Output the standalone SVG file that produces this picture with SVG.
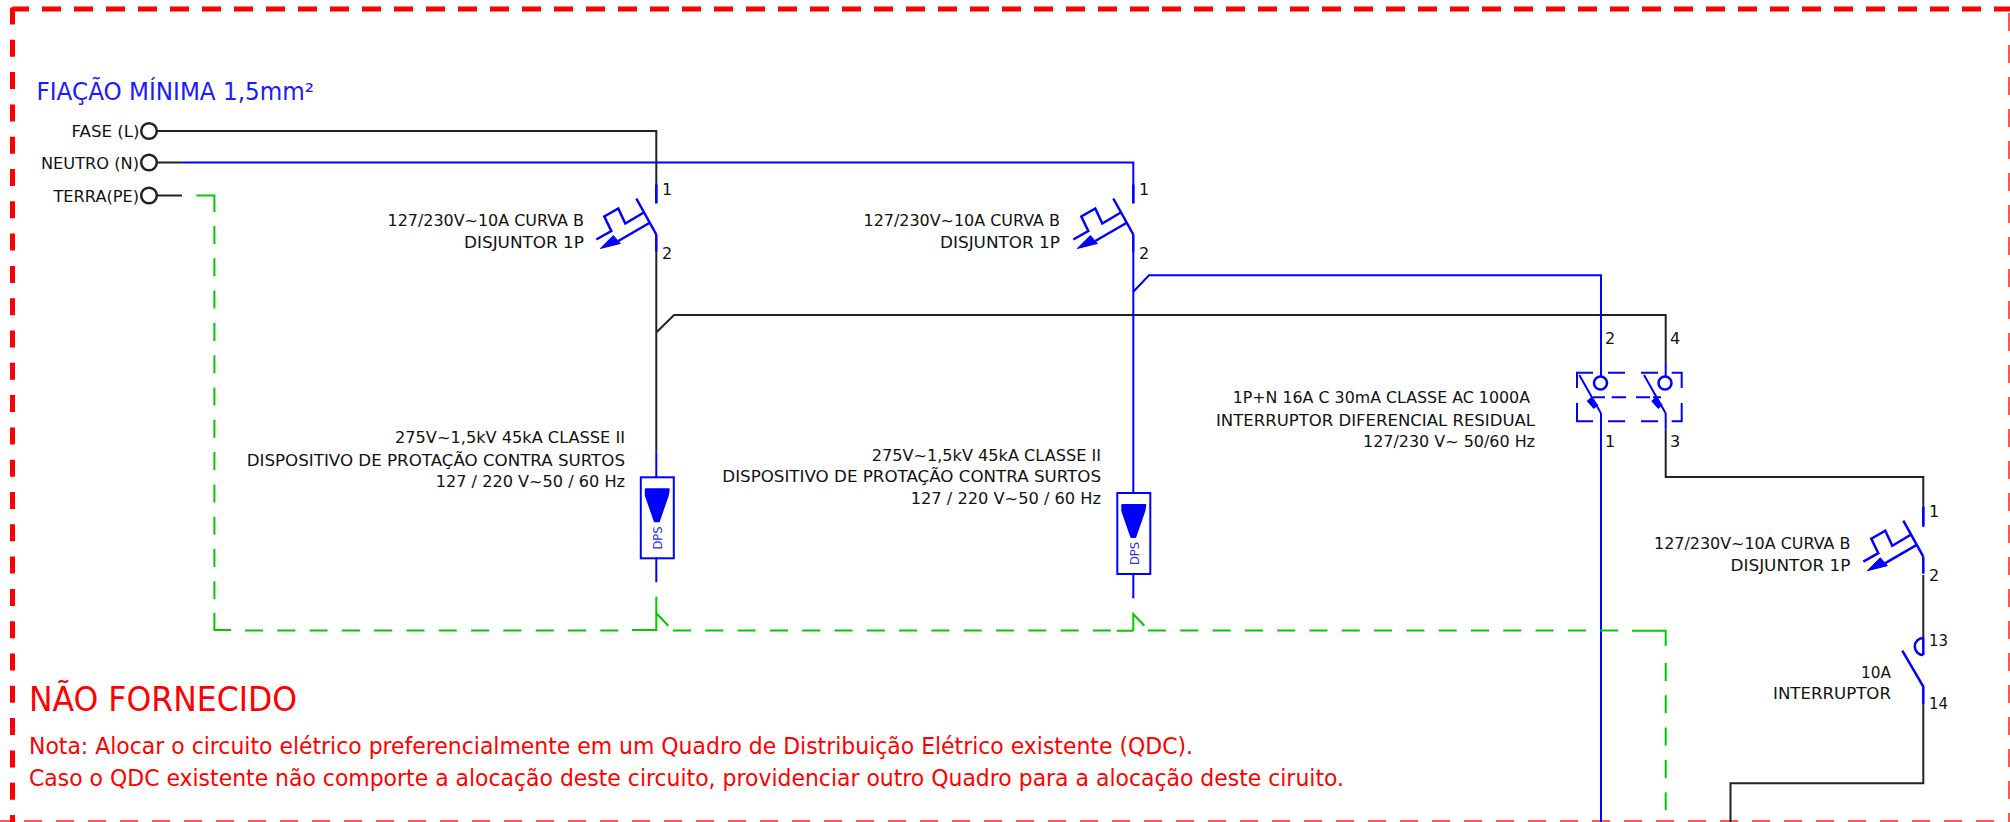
<svg xmlns="http://www.w3.org/2000/svg" width="2010" height="822" viewBox="0 0 2010 822">
<style>
text{font-family:"DejaVu Sans","Liberation Sans",sans-serif}
.t{font-size:16px;fill:#111}
.r{font-size:23px;fill:#f00}
line,path,rect,ellipse{fill:none}
.k{stroke:#222;stroke-width:2}
.b{stroke:#0000ff;stroke-width:2}
.g{stroke:#00cc00;stroke-width:2}
.gd{stroke:#00cc00;stroke-width:2;stroke-dasharray:18 14.3}
.f{fill:#0000ff;stroke:#0000ff;stroke-width:1;stroke-linejoin:round}
.m{stroke:#0000ff;stroke-width:2.500}
</style>
<defs>
<g id="brk">
<path class="m" d="M0,-31V-50M0,0V17M-20,-36L0,0M-12.500,-22L-31,-11L-38,-26L-52,-18L-45,-3.500L-60,5M-7,-11.500L-38,6.500"/>
<path class="f" d="M-56,14L-43,1L-36,9Z"/>
</g>
<g id="spd">
<rect class="b" x="-16" y="0" width="33" height="81"/>
<path class="f" d="M-11,12H12L11,18L2,44H-2L-11,18Z" style="stroke-width:2"/>
</g>
</defs>
<g id="border" fill="none">
<path d="M12.500,9H2010" fill="none" stroke="#ff0000" stroke-width="5" stroke-dasharray="19 13" stroke-dashoffset="2.500"/>
<path d="M12.500,6.500V822" fill="none" stroke="#ff0000" stroke-width="5" stroke-dasharray="17 15.300" stroke-dashoffset="-1"/>
<path d="M0,821H2010" fill="none" stroke="#ff5555" stroke-width="2" stroke-dasharray="18 14" stroke-dashoffset="8"/>
<path d="M2009,0V822" fill="none" stroke="#ff5555" stroke-width="2" stroke-dasharray="18 14" stroke-dashoffset="19"/>
</g>
<g id="connectors">
<path class="k" d="M157,131H656.300V182M157,162.500H182M157,195.500H182M656.300,251V451.700M657,331.700L674,315H1665.700V363M1665.700,429.300V477H1923.300V508M1923.300,575V638M1923.300,704.300V783.300H1730.500V822"/>
<path class="b" d="M182,162.500H1133.300V203M656.300,182V203M1133.300,251V492.700M1133.300,291.700L1149,275.300H1601V376.500M656.300,451.700V477.300M1601,413V822M1665.700,363V376.500M1665.700,413V429.300M1923.300,508V527M656.300,557.300V582.300M1133.300,575V598.300"/>
<path class="g" d="M196.400,195.500H214.400V212M214.400,613V630H231M656.300,596.700V630H632M656.300,613.300L668.300,625.700M1133.300,630.700V614L1144.300,625.700M1133.300,630.700H1116.700M1632,630.700H1665.700V646"/>
<path class="gd" d="M214.400,226V613"/>
<path class="gd" d="M245,630.500H632"/>
<path class="gd" d="M673,630.500H1111"/>
<path class="gd" d="M1148,630.500H1632"/>
<path class="gd" d="M1665.700,663V810"/>
</g>
<g id="title"><text x="36.500" y="100" textLength="277.500" lengthAdjust="spacingAndGlyphs" style="font-size:24px;fill:#1a1aff">FIAÇÃO MÍNIMA 1,5mm²</text></g>
<g id="terminal-fase"><ellipse class="m" style="stroke:#222" cx="149" cy="131" rx="7.800" ry="7.800"/><text class="t" x="71.500" y="136.500" textLength="68" lengthAdjust="spacingAndGlyphs">FASE (L)</text></g>
<g id="terminal-neutro"><ellipse class="m" style="stroke:#222" cx="149" cy="162.500" rx="7.800" ry="7.800"/><text class="t" x="41" y="168.500" textLength="98" lengthAdjust="spacingAndGlyphs">NEUTRO (N)</text></g>
<g id="terminal-terra"><ellipse class="m" style="stroke:#222" cx="149" cy="195.500" rx="7.800" ry="7.800"/><text class="t" x="53.500" y="201.500" textLength="85.500" lengthAdjust="spacingAndGlyphs">TERRA(PE)</text></g>
<g id="disjuntor-1"><use href="#brk" x="656.300" y="234.500"/>
<text class="t" x="387.500" y="226" textLength="196.500" lengthAdjust="spacingAndGlyphs">127/230V~10A CURVA B</text><text class="t" x="464" y="248" textLength="120" lengthAdjust="spacingAndGlyphs">DISJUNTOR 1P</text>
<text class="t" x="662" y="195">1</text><text class="t" x="662" y="259">2</text></g>
<g id="disjuntor-2"><use href="#brk" x="1133.300" y="234.500"/>
<text class="t" x="863.500" y="226" textLength="196.500" lengthAdjust="spacingAndGlyphs">127/230V~10A CURVA B</text><text class="t" x="940" y="248" textLength="120" lengthAdjust="spacingAndGlyphs">DISJUNTOR 1P</text>
<text class="t" x="1139" y="195">1</text><text class="t" x="1139" y="259">2</text></g>
<g id="disjuntor-3"><use href="#brk" x="1923.300" y="556.700"/>
<text class="t" x="1654" y="549" textLength="196.500" lengthAdjust="spacingAndGlyphs">127/230V~10A CURVA B</text><text class="t" x="1730.500" y="571" textLength="120" lengthAdjust="spacingAndGlyphs">DISJUNTOR 1P</text>
<text class="t" x="1929" y="517">1</text><text class="t" x="1929" y="581">2</text></g>
<g id="dps-1"><use href="#spd" x="656.800" y="477.300"/>
<text class="t" x="395" y="443" textLength="230" lengthAdjust="spacingAndGlyphs">275V~1,5kV 45kA CLASSE II</text><text class="t" x="246.700" y="466" textLength="378.300" lengthAdjust="spacingAndGlyphs">DISPOSITIVO DE PROTAÇÃO CONTRA SURTOS</text><text class="t" x="435.700" y="487" textLength="189.300" lengthAdjust="spacingAndGlyphs">127 / 220 V~50 / 60 Hz</text>
<text transform="translate(662,549.500) rotate(-90)" textLength="23" lengthAdjust="spacingAndGlyphs" style="font-size:12px;fill:#3030e0">DPS</text></g>
<g id="dps-2"><use href="#spd" x="1133.300" y="493"/>
<text class="t" x="871.700" y="461" textLength="229.300" lengthAdjust="spacingAndGlyphs">275V~1,5kV 45kA CLASSE II</text><text class="t" x="722.300" y="482" textLength="378.700" lengthAdjust="spacingAndGlyphs">DISPOSITIVO DE PROTAÇÃO CONTRA SURTOS</text><text class="t" x="910.700" y="504" textLength="190.300" lengthAdjust="spacingAndGlyphs">127 / 220 V~50 / 60 Hz</text>
<text transform="translate(1139,565) rotate(-90)" textLength="23" lengthAdjust="spacingAndGlyphs" style="font-size:12px;fill:#3030e0">DPS</text></g>
<g id="idr">
<path class="b" d="M1579.300,375L1600.800,413M1644,375L1665.500,413"/>
<path class="b" d="M1589,399L1596,407M1653.500,399L1660.500,407" style="stroke-width:6"/>
<ellipse class="m" cx="1600.500" cy="383" rx="6.500" ry="6.500"/><ellipse class="m" cx="1665" cy="383" rx="6.500" ry="6.500"/>
<path class="b" d="M1593,372.700H1577V388M1608,372.700H1625M1641,372.700H1658M1671.700,372.700H1681.700V388M1577,403V421.300H1593M1608,421.300H1625M1641,421.300H1658M1671.700,421.300H1681.700V403M1593,397.300H1605M1611.700,397.300H1626M1636,397.300H1650M1653,397.300H1661"/>
<text class="t" x="1232.700" y="403" textLength="297.300" lengthAdjust="spacingAndGlyphs">1P+N 16A C 30mA CLASSE AC 1000A</text><text class="t" x="1216" y="426" textLength="319" lengthAdjust="spacingAndGlyphs">INTERRUPTOR DIFERENCIAL RESIDUAL</text><text class="t" x="1363" y="447" textLength="172" lengthAdjust="spacingAndGlyphs">127/230 V~ 50/60 Hz</text>
<text class="t" x="1605" y="344">2</text><text class="t" x="1670" y="344">4</text><text class="t" x="1605" y="447">1</text><text class="t" x="1670" y="447">3</text></g>
<g id="interruptor">
<path class="m" d="M1923.300,638V655M1923.300,638A8.500,8.500 0 0 0 1923.300,655M1902.300,650.700L1923.300,686.700V704.300"/>
<text class="t" x="1861" y="678" textLength="30" lengthAdjust="spacingAndGlyphs">10A</text><text class="t" x="1773" y="699" textLength="118" lengthAdjust="spacingAndGlyphs">INTERRUPTOR</text>
<text class="t" x="1929" y="646" textLength="19" lengthAdjust="spacingAndGlyphs">13</text><text class="t" x="1929" y="709" textLength="19" lengthAdjust="spacingAndGlyphs">14</text></g>
<g id="notes"><text x="29" y="711" textLength="268" lengthAdjust="spacingAndGlyphs" style="font-size:34px;fill:#f00">NÃO FORNECIDO</text>
<text class="r" x="29" y="754" textLength="1164" lengthAdjust="spacingAndGlyphs">Nota: Alocar o circuito elétrico preferencialmente em um Quadro de Distribuição Elétrico existente (QDC).</text>
<text class="r" x="29" y="786" textLength="1315" lengthAdjust="spacingAndGlyphs">Caso o QDC existente não comporte a alocação deste circuito, providenciar outro Quadro para a alocação deste ciruito.</text></g>
</svg>
